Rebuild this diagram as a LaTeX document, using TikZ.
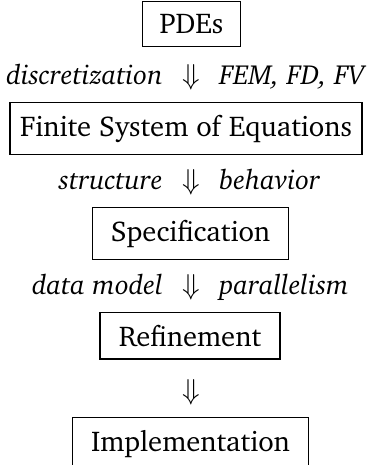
\documentclass[tikz,border=0pt]{standalone}
\usepackage[T1]{fontenc}
\usepackage{charter}
\newcommand\stagefont{\fontsize{14.3}{17}\selectfont}
\newcommand\notefont{\fontsize{13.8}{16}\selectfont}
\tikzset{
  stage/.style={draw, line width=0.7pt, inner xsep=4pt, inner ysep=6.3pt, anchor=base, font=\stagefont},
  how/.style={anchor=base east, inner sep=0pt, font=\notefont\itshape},
  what/.style={anchor=base west, inner sep=0pt, font=\notefont\itshape},
  down/.style={anchor=base, inner sep=0pt, font=\stagefont},
}
\begin{document}
\begin{tikzpicture}[x=0.5pt, y=-0.5pt]
  \useasboundingbox (0,0) rectangle (372,465);

  % stages, one baseline every 105 units
  \node[stage, minimum width=49pt]  (pde)  at (191.5,33.5) {PDEs};
  \node[stage, minimum width=176pt] (fse)  at (186,136)    {Finite System of Equations};
  \node[stage, minimum width=98pt]  (spec) at (190.5,241)  {Specification};
  \node[stage, minimum width=90pt]  (ref)  at (190,346)    {Refinement};
  \node[stage, minimum width=118pt] (impl) at (190.5,451)  {Implementation};

  % steps in between
  \node[down] (s1) at (191,84)  {$\Downarrow$};
  \node[how]  (h1) at (163,84)  {discretization};
  \node[what] (w1) at (219,84)  {FEM, FD, FV};

  \node[down] (s2) at (191,189) {$\Downarrow$};
  \node[how]  (h2) at (163,189) {structure};
  \node[what] (w2) at (219,189) {behavior};

  \node[down] (s3) at (191,294) {$\Downarrow$};
  \node[how]  (h3) at (163,294) {data model};
  \node[what] (w3) at (219,294) {parallelism};

  \node[down] (s4) at (191,399) {$\Downarrow$};
\end{tikzpicture}
\end{document}
